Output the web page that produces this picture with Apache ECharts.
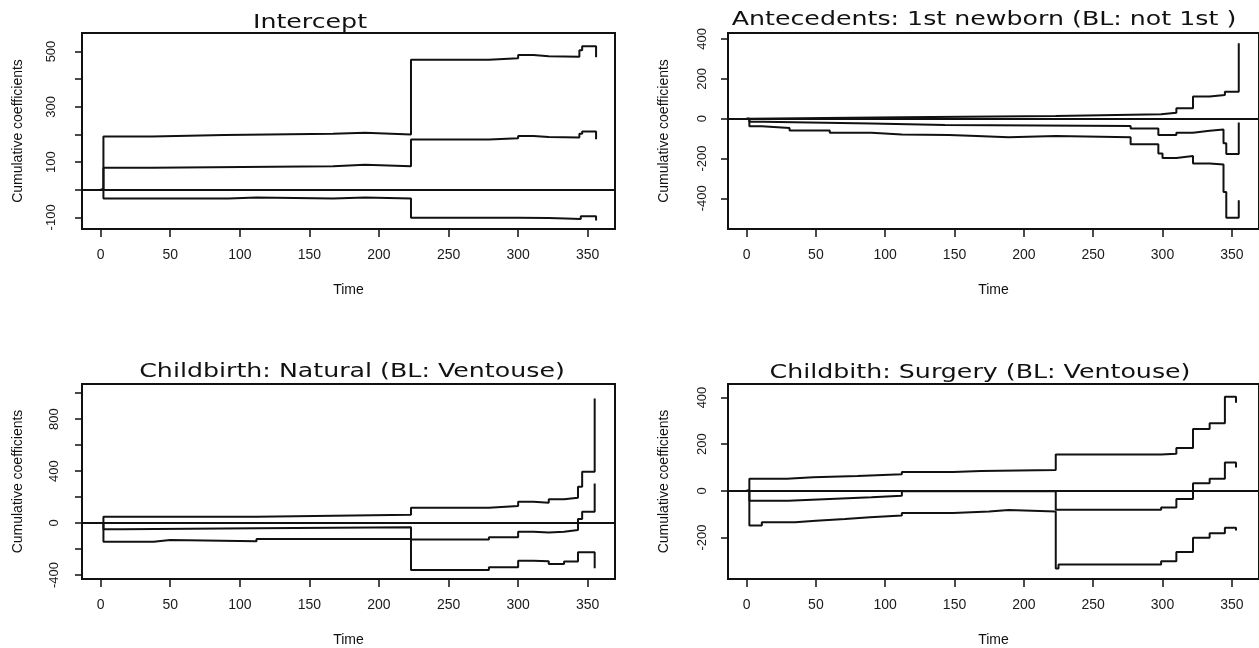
<!DOCTYPE html>
<html>
<head>
<meta charset="utf-8">
<title>Cumulative coefficients</title>
<script src="https://cdn.jsdelivr.net/npm/echarts@6.0.0/dist/echarts.min.js"></script>
<style>
  html, body { margin: 0; padding: 0; background: #fff; }
  #chart { width: 1259px; height: 648px; }
</style>
</head>
<body>
<div id="chart"></div>
<script>
// x ticks, same for all four panels
const timeTicks = [0, 50, 100, 150, 200, 250, 300, 350];

// panel titles
const titles = [
  'Intercept',
  'Antecedents: 1st newborn (BL: not 1st )',
  'Childbirth: Natural (BL: Ventouse)',
  'Childbith: Surgery (BL: Ventouse)'
];

// Intercept: [time, cumulative coef]
const interceptUpper = [[0, 0], [2, 193], [37, 198], [89, 203], [167, 206], [190, 200], [223, 470], [279, 476], [300, 487], [311, 483], [322, 481], [344, 505], [346, 519], [356, 479]];
const interceptMiddle = [[0, 0], [2, 80], [37, 85], [167, 90], [190, 85], [223, 182], [279, 186], [300, 194], [311, 191], [322, 189], [344, 203], [346, 211], [356, 183]];
const interceptLower = [[0, 0], [2, -32], [92, -28], [112, -32], [167, -28], [190, -32], [223, -101], [300, -102], [322, -104], [334, -106], [345, -96], [356, -111]];
const interceptTicks = [-100, 0, 100, 200, 300, 400, 500];
const interceptLabels = [-100, 100, 300, 500];

// Antecedents: 1st newborn
const newbornUpper = [[0, 0], [2, 7], [112, 13], [223, 22], [299, 30], [310, 52], [322, 111], [334, 119], [345, 135], [355, 378]];
const newbornMiddle = [[0, 0], [2, -15], [12, -24], [90, -32], [143, -37], [277, -49], [297, -82], [310, -71], [322, -61], [334, -54], [344, -124], [346, -178], [355, -19]];
const newbornLower = [[0, 0], [2, -38], [11, -47], [31, -60], [60, -71], [90, -79], [112, -82], [146, -87], [166, -94], [189, -87], [223, -94], [277, -128], [297, -175], [300, -197], [310, -187], [322, -225], [334, -230], [344, -368], [346, -497], [355, -410]];
const newbornTicks = [-400, -200, 0, 200, 400];
const newbornLabels = [-400, -200, 0, 200, 400];

// Childbirth: Natural
const naturalUpper = [[0, 0], [2, 49], [112, 64], [223, 118], [279, 131], [300, 164], [311, 156], [322, 182], [333, 195], [343, 280], [346, 395], [355, 959]];
const naturalMiddle = [[0, 0], [2, -49], [15, -41], [112, -33], [223, -126], [279, -110], [300, -67], [311, -74], [322, -67], [333, -54], [343, 31], [346, 87], [355, 305]];
const naturalLower = [[0, 0], [2, -144], [38, -131], [50, -140], [112, -123], [223, -362], [279, -341], [300, -290], [311, -295], [322, -315], [333, -297], [343, -226], [355, -349]];
const naturalTicks = [-400, -200, 0, 200, 400, 600, 800, 1000];
const naturalLabels = [-400, 0, 400, 800];

// Childbith: Surgery
const surgeryUpper = [[0, 0], [2, 52], [29, 58], [48, 64], [80, 71], [112, 81], [149, 85], [169, 89], [223, 156], [299, 159], [310, 184], [322, 265], [334, 290], [345, 403], [353, 378]];
const surgeryMiddle = [[0, 0], [2, -43], [30, -35], [60, -28], [90, -21], [112, -2], [223, -81], [299, -71], [310, -35], [322, 33], [334, 52], [345, 121], [353, 100]];
const surgeryLower = [[0, 0], [2, -149], [11, -135], [35, -128], [50, -121], [71, -113], [89, -106], [112, -95], [149, -89], [175, -82], [189, -89], [223, -333], [225, -316], [299, -302], [310, -262], [322, -201], [334, -182], [345, -158], [353, -170]];
const surgeryTicks = [-200, 0, 200, 400];
const surgeryLabels = [-200, 0, 200, 400];

const panels = [
  { title: titles[0], lines: [interceptUpper, interceptMiddle, interceptLower], yMin: -142, yMax: 567,
    yTicks: interceptTicks, yLabels: interceptLabels, left: 82, top: 33, titleX: 310, titleY: 23, labelMargin: 24 },
  { title: titles[1], lines: [newbornUpper, newbornMiddle, newbornLower], yMin: -554, yMax: 430,
    yTicks: newbornTicks, yLabels: newbornLabels, left: 728, top: 33, titleX: 984, titleY: 20, labelMargin: 19 },
  { title: titles[2], lines: [naturalUpper, naturalMiddle, naturalLower], yMin: -431, yMax: 1070,
    yTicks: naturalTicks, yLabels: naturalLabels, left: 82, top: 384, titleX: 352, titleY: 372, labelMargin: 21 },
  { title: titles[3], lines: [surgeryUpper, surgeryMiddle, surgeryLower], yMin: -378, yMax: 458,
    yTicks: surgeryTicks, yLabels: surgeryLabels, left: 728, top: 384, titleX: 980, titleY: 373, labelMargin: 19 }
];

const ink = '#111';
const labelFont = 'Liberation Sans';

const option = {
  animation: false,
  backgroundColor: '#fff',
  graphic: [],
  grid: [],
  xAxis: [],
  yAxis: [],
  series: []
};

panels.forEach((p, i) => {
  // title text is a bit stretched sideways in the original
  option.graphic.push({
    type: 'text', silent: true,
    x: p.titleX, y: p.titleY, scaleX: 1.33,
    style: {
      text: p.title, fontFamily: 'DejaVu Sans', fontSize: 19, fill: ink,
      align: 'center', verticalAlign: 'middle'
    }
  });
  option.grid.push({
    left: p.left, top: p.top, width: 533, height: 196,
    show: true, borderColor: ink, borderWidth: 2, backgroundColor: 'transparent'
  });
  option.xAxis.push({
    type: 'value', gridIndex: i, min: -13.4, max: 369.6,
    name: 'Time', nameLocation: 'middle', nameGap: 54,
    nameTextStyle: { fontFamily: labelFont, fontSize: 14, color: ink },
    axisLine: { show: false, onZero: false },
    splitLine: { show: false },
    axisTick: { show: true, length: 8, customValues: timeTicks, lineStyle: { color: ink, width: 1.5 } },
    axisLabel: { customValues: timeTicks, margin: 19, fontSize: 14, color: '#1a1a1a', fontFamily: labelFont }
  });
  option.yAxis.push({
    type: 'value', gridIndex: i, min: p.yMin, max: p.yMax,
    name: 'Cumulative coefficients', nameLocation: 'middle', nameGap: 57,
    nameTextStyle: { fontFamily: labelFont, fontSize: 14, color: ink },
    axisLine: { show: false, onZero: false },
    splitLine: { show: false },
    axisTick: { show: true, length: 7, customValues: p.yTicks, lineStyle: { color: ink, width: 1.5 } },
    axisLabel: { customValues: p.yLabels, rotate: 90, margin: p.labelMargin, fontSize: 13, color: '#1a1a1a', fontFamily: labelFont }
  });
  p.lines.forEach(d => {
    option.series.push({
      type: 'line', xAxisIndex: i, yAxisIndex: i, data: d, step: 'end',
      symbol: 'none', silent: true,
      lineStyle: { color: ink, width: 2 }
    });
  });
  // horizontal reference at 0
  option.series.push({
    type: 'line', xAxisIndex: i, yAxisIndex: i, data: [], silent: true,
    markLine: {
      silent: true, symbol: 'none', animation: false,
      label: { show: false },
      lineStyle: { color: ink, width: 2, type: 'solid' },
      data: [{ yAxis: 0 }]
    }
  });
});

const myChart = echarts.init(document.getElementById('chart'));
myChart.setOption(option);
</script>
</body>
</html>
